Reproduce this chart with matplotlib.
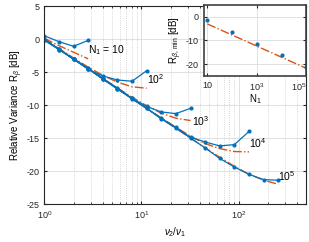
import matplotlib
matplotlib.use('Agg')
import matplotlib.pyplot as plt
import numpy as np
from matplotlib.ticker import LogLocator, NullFormatter, FixedLocator, FixedFormatter

plt.rcParams['font.family'] = ['Liberation Sans', 'DejaVu Sans']
plt.rcParams['mathtext.fontset'] = 'custom'
plt.rcParams['mathtext.rm'] = 'Liberation Sans'
plt.rcParams['mathtext.it'] = 'Liberation Sans:italic'
plt.rcParams['axes.unicode_minus'] = False

# frequency ratio grid nu2/nu1 (sqrt(2) steps)
ratio = [1, 1.414, 2, 2.828, 4, 5.657, 8, 11.31, 16, 22.63, 32,
         45.25, 64, 90.51, 128, 181.0, 256]

N1_labels = ['N$_1$ = 10', '10$^2$', '10$^3$', '10$^4$', '10$^5$']

# measured relative variance [dB]
meas_10 = [0.5, -0.4, -1.1, -0.2]
meas_100 = [0.0, -1.6, -3.0, -4.6, -5.6, -6.2, -6.4, -4.8]
meas_1e3 = [-0.1, -1.5, -3.1, -4.5, -6.0, -7.4, -9.0, -10.2, -11.05, -11.3, -10.5]
meas_1e4 = [-0.2, -1.6, -3.0, -4.4, -6.1, -7.5, -9.1, -10.5, -12.0, -13.4,
            -14.9, -15.6, -16.2, -16.0, -14.0]
meas_1e5 = [-0.1, -1.5, -3.0, -4.5, -6.0, -7.6, -9.0, -10.5, -12.1, -13.5,
            -15.0, -16.5, -18.1, -19.4, -20.5, -21.3, -21.4]

# theoretical curves [dB]
theo_10 = [0.1, -1.0, -2.0, -3.0]
theo_100 = [0.0, -1.44, -2.87, -4.25, -5.5, -6.53, -7.24, -7.45]
theo_1e3 = [0.0, -1.5, -3.0, -4.49, -5.97, -7.42, -8.81, -10.11, -11.23, -12.0, -12.35]
theo_1e4 = [0.0, -1.5, -3.01, -4.51, -6.02, -7.51, -9.01, -10.49, -11.95, -13.37,
            -14.71, -15.85, -16.6, -17.05, -17.1]
theo_1e5 = [0.0, -1.5, -3.01, -4.51, -6.02, -7.52, -9.03, -10.53, -12.03, -13.53,
            -15.02, -16.49, -17.92, -19.29, -20.5, -21.4, -22.0]

label_pos = [(2.8, -1.7), (11.5, -6.0), (33, -12.5), (128, -15.8), (254, -20.7)]

# inset: minimum relative variance vs N1
N1 = [10, 100, 1000, 1e4, 1e5]
R_min = [-1.15, -6.4, -11.3, -16.1, -21.4]
R_min_theo = [-3.0, -7.7, -12.4, -17.1, -21.8]

blue = '#0072BD'
orange = '#D95319'
frame = '#262626'

meas = [meas_10, meas_100, meas_1e3, meas_1e4, meas_1e5]
theo = [theo_10, theo_100, theo_1e3, theo_1e4, theo_1e5]

fig = plt.figure(figsize=(3.09, 2.42), dpi=100)
ax = fig.add_axes([0.1434, 0.157, 0.8485, 0.818])

for m, t in zip(meas, theo):
    ax.plot(ratio[:len(t)], t, '-.', color=orange, lw=1.0)
for m in meas:
    ax.plot(ratio[:len(m)], m, '-', color=blue, lw=0.9, marker='.', ms=4)

for lab, (x, y) in zip(N1_labels, label_pos):
    ax.text(x, y, lab, fontsize=7.5, va='center', ha='left', color='k')

ax.set_xscale('log')
ax.set_xlim(1, 500)
ax.set_ylim(-25, 5)
ax.set_yticks([-25, -20, -15, -10, -5, 0, 5])
ax.xaxis.set_minor_locator(LogLocator(base=10, subs=np.arange(2, 10)))
ax.xaxis.set_minor_formatter(NullFormatter())
ax.grid(True, which='major', color='#dcdcdc', lw=0.6)
ax.grid(True, which='minor', axis='x', color='#c8c8c8', lw=0.6, ls=':')
ax.set_axisbelow(True)
ax.tick_params(direction='in', which='both', labelsize=6.5, colors=frame,
               top=True, right=True, length=2.5)
ax.tick_params(which='minor', length=1.5)
for s in ax.spines.values():
    s.set_color(frame)
    s.set_linewidth(0.8)
ax.set_ylabel(r'Relative Variance R$_\beta$ [dB]', fontsize=7, labelpad=1)
ax.set_xlabel(r'$\nu_2/\nu_1$', fontsize=7, labelpad=3)

ins = fig.add_axes([0.6586, 0.686, 0.3333, 0.2934])
ins.plot(N1, R_min_theo, '-.', color=orange, lw=1.0)
ins.plot(N1, R_min, '.', color=blue, ms=4, clip_on=True)
ins.set_xscale('log')
ins.set_xlim(7, 1e5)
ins.set_ylim(-25, 5)
ins.set_yticks([-20, -10, 0])
ins.xaxis.set_major_locator(FixedLocator([10, 1e3, 1e5]))
ins.xaxis.set_major_formatter(FixedFormatter(['10', '10$^3$', '10$^5$']))
ins.xaxis.set_minor_locator(LogLocator(base=10, subs=np.arange(2, 10)))
ins.xaxis.set_minor_formatter(NullFormatter())
ins.grid(True, which='major', color='#dcdcdc', lw=0.6)
ins.set_axisbelow(True)
ins.tick_params(direction='in', which='both', labelsize=6.5, colors=frame,
                top=True, right=True, length=2)
ins.tick_params(which='minor', length=1)
for s in ins.spines.values():
    s.set_color('#404040')
    s.set_linewidth(1.2)
ins.set_ylabel(r'R$_{\beta,\,\rm min}$ [dB]', fontsize=7, labelpad=1)
ins.set_xlabel('N$_1$', fontsize=7, labelpad=0)

fig.canvas.draw()
ins.get_xticklabels()[-1].set_horizontalalignment('right')

fig.savefig('out.png', dpi=100)
